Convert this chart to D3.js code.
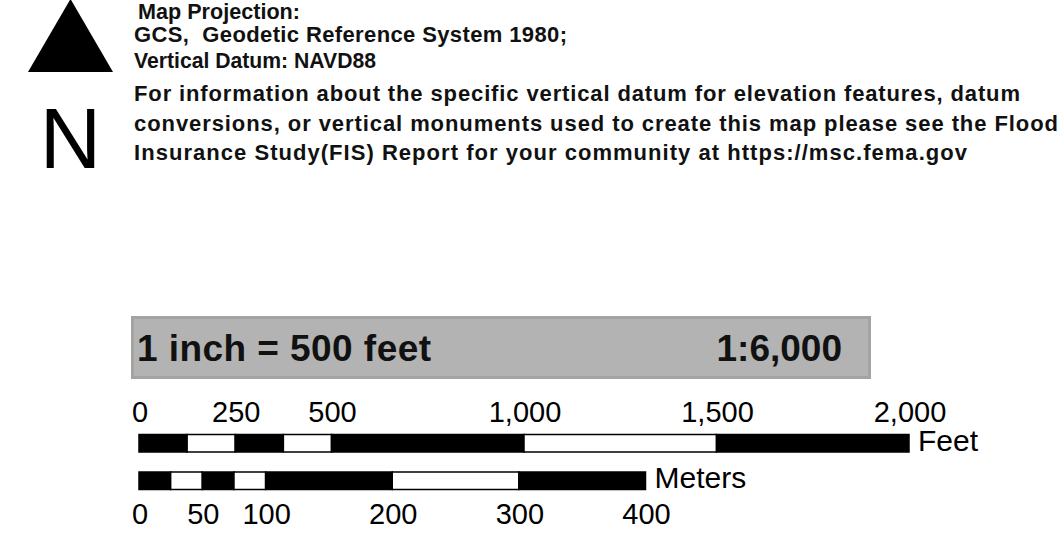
<!DOCTYPE html>
<html>
<head>
<meta charset="utf-8">
<script src="https://cdn.jsdelivr.net/npm/d3@7"></script>
<style>
  body { margin: 0; background: #fff; }
  svg text { white-space: pre; }
</style>
</head>
<body>
<div id="chart"></div>
<script>
"use strict"

// notes printed beside the north arrow
const noteLines = [
    "Map Projection:",
    "GCS,  Geodetic Reference System 1980;",
    "Vertical Datum: NAVD88",
    "For information about the specific vertical datum for elevation features, datum",
    "conversions, or vertical monuments used to create this map please see the Flood",
    "Insurance Study(FIS) Report for your community at https://msc.fema.gov"
];

const scaleText = "1 inch = 500 feet";
const ratioText = "1:6,000";

// feet bar
const feetBreaks = [0, 125, 250, 375, 500, 1000, 1500, 2000];
const feetTicks = [0, 250, 500, 1000, 1500, 2000];
const feetLabels = ["0", "250", "500", "1,000", "1,500", "2,000"];

// meters bar
const meterBreaks = [0, 25, 50, 75, 100, 200, 300, 400];
const meterTicks = [0, 50, 100, 200, 300, 400];
const meterLabels = ["0", "50", "100", "200", "300", "400"];

let ScaleBarView = function(targetID) {

    let self = {
        svg: null,
        width: 1061,
        height: 554
    };

    init();

    function init() {
        self.svg = d3.select(targetID).append("svg")
            .attr("width", self.width)
            .attr("height", self.height);

        self.svg.append("rect")
            .attr("width", self.width)
            .attr("height", self.height)
            .style("fill", "#fff");

        drawNorthArrow();
        drawNotes();
        drawScaleBox();

        let xFeet = d3.scaleLinear().domain([0, 2000]).range([139, 909]);
        let xMeter = d3.scaleLinear().domain([0, 400]).range([139, 645.5]);

        drawBar(feetBreaks, xFeet, 434.5, 17.5);
        drawLabels(feetTicks, feetLabels, xFeet, 422);
        drawUnit("Feet", xFeet(2000) + 9, 451);

        drawBar(meterBreaks, xMeter, 472, 17.5);
        drawLabels(meterTicks, meterLabels, xMeter, 524);
        drawUnit("Meters", xMeter(400) + 9, 488);
    }

    function drawNorthArrow() {
        let tri = [[70.5, -1], [113, 72], [28, 72]];
        self.svg.append("path")
            .attr("d", d3.line()(tri) + "Z")
            .style("fill", "#000");

        self.svg.append("text")
            .attr("x", 70.5)
            .attr("y", 168)
            .attr("text-anchor", "middle")
            .style("font-family", "'Liberation Sans', Arial, sans-serif")
            .style("font-size", "85px")
            .text("N");
    }

    function drawNotes() {
        let xs = [138, 134, 134, 134, 134, 134];
        let ys = [18.5, 41.5, 68, 100.5, 131, 160];
        let ends = [300, 567, 376, 1020, 1058, 967];

        let notes = self.svg.selectAll(".note")
            .data(noteLines)
            .enter()
            .append("text")
            .attr("class", "note")
            .attr("x", (d, i) => xs[i])
            .attr("y", (d, i) => ys[i])
            .style("font-family", "'Liberation Sans', Arial, sans-serif")
            .style("font-weight", "bold")
            .style("font-size", "20px")
            .style("fill", "#111")
            .text(d => d);

        // size each line so that it spans the same width as in the map
        notes.each(function(d, i) {
            let w = this.getComputedTextLength();
            let fs = Math.min(22, 20 * (ends[i] - xs[i]) / w);
            d3.select(this)
                .style("font-size", fs + "px")
                .attr("textLength", ends[i] - xs[i])
                .attr("lengthAdjust", "spacing");
        });
    }

    function drawScaleBox() {
        self.svg.append("rect")
            .attr("x", 132.5)
            .attr("y", 317.5)
            .attr("width", 737)
            .attr("height", 60)
            .style("fill", "#b3b3b3")
            .style("stroke", "#a3a3a3")
            .style("stroke-width", "3px");

        self.svg.append("text")
            .attr("x", 137)
            .attr("y", 361)
            .attr("textLength", 294)
            .attr("lengthAdjust", "spacing")
            .style("font-family", "'Liberation Sans', Arial, sans-serif")
            .style("font-weight", "bold")
            .style("font-size", "37px")
            .style("fill", "#111")
            .text(scaleText);

        self.svg.append("text")
            .attr("x", 842)
            .attr("y", 361)
            .attr("text-anchor", "end")
            .style("font-family", "'Liberation Sans', Arial, sans-serif")
            .style("font-weight", "bold")
            .style("font-size", "37px")
            .style("fill", "#111")
            .text(ratioText);
    }

    /* alternating black and white segments */
    function drawBar(breaks, x, y, h) {
        let segs = d3.pairs(breaks);
        self.svg.selectAll(null)
            .data(segs)
            .enter()
            .append("rect")
            .attr("x", d => x(d[0]))
            .attr("y", y)
            .attr("width", d => x(d[1]) - x(d[0]))
            .attr("height", h)
            .style("fill", (d, i) => i % 2 === 0 ? "#000" : "#fff")
            .style("stroke", "#000")
            .style("stroke-width", "1.5px");
    }

    function drawLabels(ticks, labels, x, y) {
        self.svg.selectAll(null)
            .data(ticks)
            .enter()
            .append("text")
            .attr("x", d => x(d) + 1)
            .attr("y", y)
            .attr("text-anchor", "middle")
            .style("font-family", "'Liberation Sans', Arial, sans-serif")
            .style("font-size", "29px")
            .text((d, i) => labels[i]);
    }

    function drawUnit(label, x, y) {
        self.svg.append("text")
            .attr("x", x)
            .attr("y", y)
            .style("font-family", "'Liberation Sans', Arial, sans-serif")
            .style("font-size", "30px")
            .text(label);
    }

    return {};
}

ScaleBarView("#chart");
</script>
</body>
</html>
